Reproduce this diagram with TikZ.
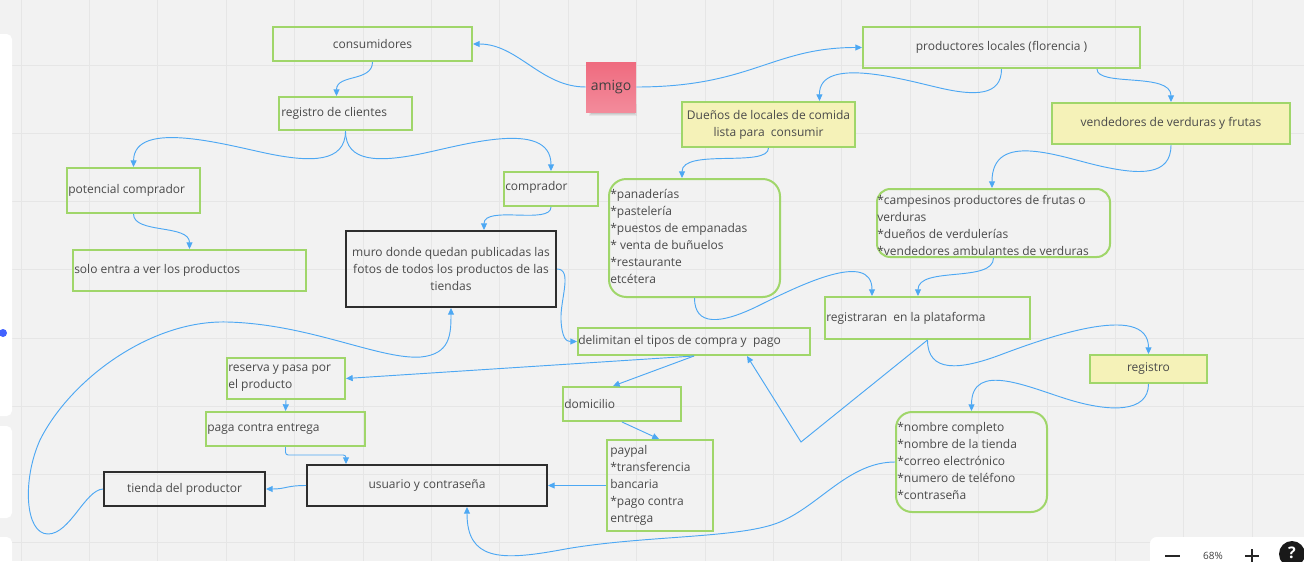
\documentclass[tikz,border=0pt]{standalone}
\usepackage{fontspec}
\setmainfont{Open Sans}
\usetikzlibrary{arrows.meta,calc,fit}

\definecolor{canvas}{HTML}{F2F2F2}
\definecolor{gridc}{HTML}{E6E6E6}
\definecolor{lime}{HTML}{A0D66A}
\definecolor{cream}{HTML}{F5F2B8}
\definecolor{ink}{HTML}{4A4A4A}
\definecolor{wire}{HTML}{4DA8F3}
\definecolor{pinktop}{HTML}{EF6B7F}
\definecolor{pinkbot}{HTML}{F38B9B}
\definecolor{frame}{HTML}{2E2E2E}
\definecolor{dotblue}{HTML}{4262FF}

\tikzset{
  card/.style={draw=lime, line width=1.5pt, inner sep=0pt, fit={#1}},
  ycard/.style={card={#1}, fill=cream},
  kcard/.style={draw=frame, line width=1.5pt, inner sep=0pt, fit={#1}},
  txt/.style={text=ink, font=\fontsize{9}{12.75}\selectfont, inner sep=0pt},
  ltxt/.style={txt, align=left, anchor=west},
  ctxt/.style={txt, align=center},
  conn/.style={draw=wire, line width=0.7pt, -{Triangle[length=5pt,width=4.5pt]}},
}

\begin{document}
\begin{tikzpicture}[x=0.75pt,y=-0.75pt]
% canvas and grid
\useasboundingbox (0,0) rectangle (1304,561);
\fill[canvas] (0,0) rectangle (1304,561);
\clip (0,0) rectangle (1304,561);
\foreach \i in {0,...,18} \draw[gridc, line width=0.75pt] ({21+68.4*\i},0) -- ({21+68.4*\i},561);
\foreach \j in {0,...,8} \draw[gridc, line width=0.75pt] (0,{-3+68.2*\j}) -- (1304,{-3+68.2*\j});

% side toolbar panels
\fill[white, rounded corners=4pt] (-10,34) rectangle (12,416);
\fill[white, rounded corners=4pt] (-10,426) rectangle (12,518);
\fill[white, rounded corners=4pt] (-10,537) rectangle (12,580);
\fill[dotblue] (3,333) circle (4);

% boxes
\node[card={(273,27) (472,61)}] (cons) {};
\node[card={(863,27) (1140,68)}] (prod) {};
\node[card={(279,97) (412,130)}] (regc) {};
\node[ycard={(682,102) (855,147)}] (duenos) {};
\node[ycard={(1052,103) (1290,144)}] (verd) {};
\node[card={(67,168) (200,213)}] (pot) {};
\node[card={(504,172) (598,206)}] (comp) {};
\node[card={(609,179) (780,297)}, rounded corners=13pt] (pan) {};
\node[card={(877,189) (1110,257)}, rounded corners=10pt] (camp) {};
\node[card={(73,250) (306,291)}] (solo) {};
\node[kcard={(346,231) (556,307)}] (muro) {};
\node[card={(825,297) (1030,339)}] (regp) {};
\node[card={(578,328) (810,355)}] (delim) {};
\node[ycard={(1090,355) (1207,383)}] (regi) {};
\node[card={(227,358) (345,399)}] (res) {};
\node[card={(563,387) (681,421)}] (dom) {};
\node[card={(206,412) (365,446)}] (paga) {};
\node[card={(896,412) (1047,512)}, rounded corners=12pt] (nom) {};
\node[card={(607,440) (713,531)}] (pay) {};
\node[kcard={(307,465) (547,506)}] (usu) {};
\node[kcard={(104,472) (265,506)}] (tien) {};

% sticky note with its shadow
\foreach \k/\o in {0/0.05,1/0.06,2/0.08,3/0.1} \fill[black, opacity=\o] (589+\k,104) rectangle (637-\k,116-\k);
\node[inner sep=0pt, fit={(586,62) (636,112)}, top color=pinktop, bottom color=pinkbot] (amigo) {};
\node[txt, text=black!75, font=\fontsize{10.5}{12}\selectfont] at (amigo) {amigo};

% texts
\node[ctxt] at (cons) {consumidores};
\node[ctxt] at (prod) {productores locales (florencia )};
\node[ltxt] at ($(regc.west)+(3,0)$) {registro de clientes};
\node[ctxt] at (duenos) {Dueños de locales de comida\\lista para~ consumir};
\node[ctxt] at (verd) {vendedores de verduras y frutas};
\node[ltxt] at ($(pot.west)+(2,0)$) {potencial comprador};
\node[ltxt] at ($(comp.west)+(2,-2)$) {comprador};
\node[ltxt] at ($(pan.west)+(2,-2)$) {*panaderías\\*pastelería\\*puestos de empanadas\\* venta de buñuelos\\*restaurante\\etcétera};
\node[ltxt] at ($(camp.west)+(1,2)$) {*campesinos productores de frutas o\\verduras\\*dueños de verdulerías\\*vendedores ambulantes de verduras};
\node[ltxt] at ($(solo.west)+(2,0)$) {solo entra a ver los productos};
\node[ctxt] at (muro) {muro donde quedan publicadas las\\fotos de todos los productos de las\\tiendas};
\node[ltxt] at ($(regp.west)+(2,0)$) {registraran~ en la plataforma};
\node[ltxt] at ($(delim.west)+(1,0)$) {delimitan el tipos de compra y~ pago};
\node[ctxt] at (regi) {registro};
\node[ltxt] at ($(res.west)+(2,0)$) {reserva y pasa por\\el producto};
\node[ltxt] at ($(dom.west)+(2,0)$) {domicilio};
\node[ltxt] at ($(paga.west)+(2,0)$) {paga contra entrega};
\node[ltxt] at ($(nom.west)+(2,-1)$) {*nombre completo\\*nombre de la tienda\\*correo electrónico\\*numero de teléfono\\*contraseña};
\node[ltxt] at ($(pay.west)+(4,0)$) {paypal\\*transferencia\\bancaria\\*pago contra\\entrega};
\node[ctxt] at (usu) {usuario y contraseña};
\node[ctxt] at (tien) {tienda del productor};

% connectors
\draw[conn] (amigo.west) .. controls +(-45,0) and +(45,0) .. (cons.east);
\draw[conn] (amigo.east) .. controls +(115,0) and +(-90,0) .. (prod.west);
\draw[conn] (cons.south) .. controls +(0,20) and +(0,-22) .. ($(regc.north)+(-9,0)$);
\draw[conn] (regc.south) .. controls +(0,32) and (310,162) .. (270,154) .. controls (230,146) and (134,118) .. (pot.north);
\draw[conn] (regc.south) .. controls +(0,32) and (380,162) .. (420,154) .. controls (460,146) and (551,118) .. (comp.north);
\draw[conn] (prod.south) .. controls +(0,27) and (975,96) .. (940,88) .. controls (905,80) and (819,55) .. ($(duenos.north)+(51,0)$);
\draw[conn] ($(prod.south)+(95.5,0)$) .. controls +(0,18) and +(0,-30) .. (verd.north);
\draw[conn] (duenos.south) .. controls +(0,20) and +(0,-30) .. ($(pan.north)+(-12.5,0)$);
\draw[conn] (verd.south) .. controls +(0,31) and (1140,175) .. (1100,166) .. controls (1060,157) and (992,130) .. ($(camp.north)+(-1.5,0)$);
\draw[conn] (comp.south) .. controls +(0,18) and +(0,-25) .. ($(muro.north)+(33,0)$);
\draw[conn] (pot.south) .. controls +(0,20) and +(0,-25) .. (solo.north);
\draw[conn] (muro.east) .. controls +(16,0) and (560,300) .. (561,320) .. controls (562,338) and (566,341.5) .. (delim.west);
\draw[conn] (pan.south) .. controls +(0,28) and (720,325) .. (760,305) .. controls (800,285) and (872,250) .. ($(regp.north)+(-55.5,0)$);
\draw[conn] (camp.south) .. controls +(0,25) and +(0,-30) .. ($(regp.north)+(-9.5,0)$);
\draw[conn] (regp.south) .. controls +(0,33) and (960,370) .. (1000,355) .. controls (1040,340) and (1148.5,300) .. (regi.north);
\draw[conn] (regi.south) .. controls +(0,29) and (1110,412) .. (1070,400) .. controls (1030,388) and (971.5,360) .. (nom.north);
\coordinate (kink) at (801,442);
\draw[conn] (regp.south) -- (kink) -- ($(delim.south)+(53,0)$);
\draw[conn] (delim.south) -- (res.east);
\draw[conn] (delim.south) -- ($(dom.north)+(-9,0)$);
\draw[conn] (dom.south) -- ($(pay.north)+(-1,0)$);
\draw[conn] (pay.west) -- (usu.east);
\draw[conn] (res.south) -- (paga.north);
\draw[conn, rounded corners=2pt] (paga.south) |- ($(usu.north)+(-81,-9)$) -- ($(usu.north)+(-81,0)$);
\draw[conn] (usu.west) .. controls +(-20,0) and +(20,0) .. (tien.east);
\draw[conn] (tien.west) .. controls (85,490) and (70,534) .. (48,534) .. controls (25,534) and (22,480) .. (40,440) .. controls (70,380) and (150,320) .. (227,322) .. controls (310,324) and (380,360) .. (421,357) .. controls (450,354) and (451,335) .. (muro.south);
\draw[conn] (nom.west) .. controls +(-46,0) and (820,505) .. (780,522) .. controls (740,539) and (640,535) .. (560,550) .. controls (500,561) and (467,560) .. ($(usu.south)+(40,0)$);

% zoom control
\fill[white, rounded corners=5pt] (1150,537) rectangle (1320,580);
\draw[black!85, line width=1.6pt] (1165,556) -- (1180,556);
\node[txt, font=\fontsize{7.5}{9}\selectfont, text=black!75] (zoomlvl) at (1213,556) {68\%};
\draw[black!85, line width=1.6pt] (1245,556) -- (1259,556) (1252,549) -- (1252,563);
\fill[black!90] (1292,554) circle (13);
\node[txt, text=white, font=\bfseries\fontsize{12}{12}\selectfont] (helpq) at (1292,553) {?};
\end{tikzpicture}
\end{document}
